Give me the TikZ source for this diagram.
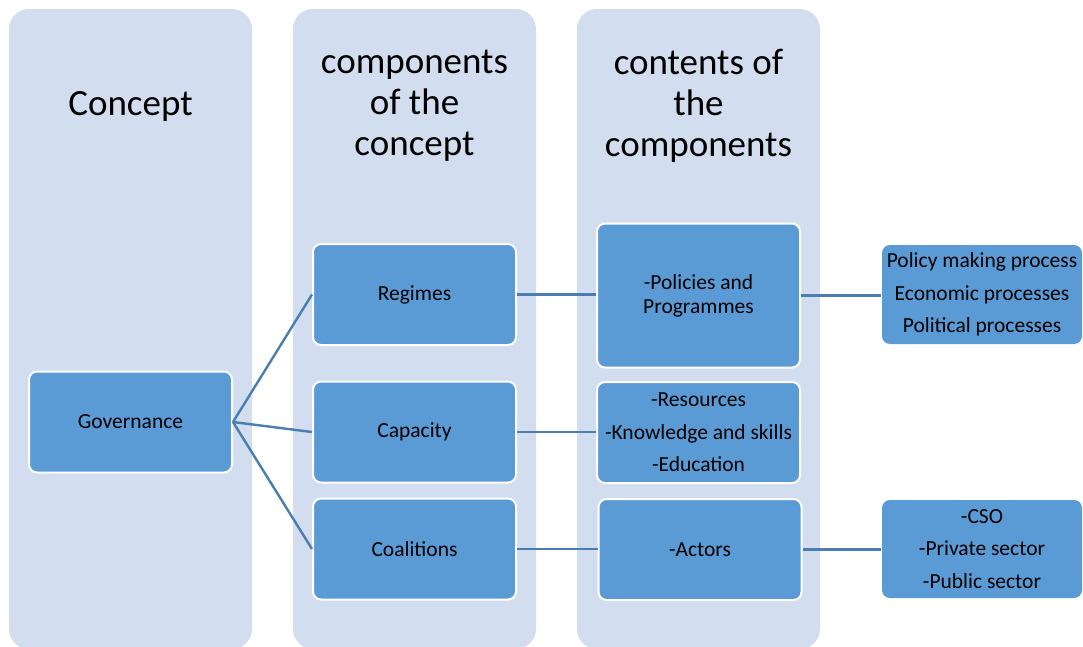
\documentclass[tikz,border=0pt]{standalone}
\usepackage{fontspec}
\setmainfont{Carlito}
\usepackage{xcolor}
\definecolor{colfill}{HTML}{D2DEEF}
\definecolor{boxfill}{HTML}{5B9BD5}
\definecolor{linecol}{HTML}{4A7EB0}

\begin{document}
\begin{tikzpicture}[x=1pt,y=-1pt,
    col node/.style={fill=colfill,rounded corners=20pt,minimum width=243pt,minimum height=640pt,inner sep=0pt},
    head node/.style={align=center,font=\fontsize{37}{41}\selectfont},
    box node/.style={fill=boxfill,draw=white,line width=2pt,rounded corners=8pt,align=center,
                     minimum width=203pt,minimum height=101pt,font=\fontsize{21.5}{32.5}\selectfont},
    link/.style={draw=linecol,line width=2.4pt}]
  \useasboundingbox (0,0) rectangle (1083,646);
  % Columns
  \node[col node] (colA) at (130.5,329) {};
  \node[col node] (colB) at (414.5,329) {};
  \node[col node] (colC) at (698.5,329) {};
  \node[head node] (hA) at (130.5,106) {Concept};
  \node[head node] (hB) at (414.5,106) {components\\of the\\concept};
  \node[head node] (hC) at (698.5,106) {contents of\\the\\components};

  % Nodes
  \node[box node] (gov) at (130.5,422) {Governance};
  \node[box node] (reg) at (414.5,294.5) {Regimes};
  \node[box node] (cap) at (414.5,432) {Capacity};
  \node[box node] (coal) at (414.5,549) {Coalitions};
  \node[box node,minimum height=144pt,font=\fontsize{21.5}{24}\selectfont] (pol) at (698.5,295.5) {-Policies and\\Programmes};
  \node[box node] (res) at (698.5,432.5) {-Resources\\-Knowledge and skills\\-Education};
  \node[box node] (act) at (700,549.5) {-Actors};
  \node[box node,draw=none,minimum width=200pt,minimum height=99pt] (proc) at (982,294.5) {Policy making process\\Economic processes\\Political processes};
  \node[box node,draw=none,minimum width=200pt,minimum height=98pt] (sect) at (982,549) {-CSO\\-Private sector\\-Public sector};

  % Edges
  \draw[link] (gov.east) -- (reg.west);
  \draw[link] (gov.east) -- (cap.west);
  \draw[link] (gov.east) -- (coal.west);
  \draw[link] (reg.east) -- (reg.east -| pol.west);
  \draw[link] (cap.east) -- (cap.east -| res.west);
  \draw[link] (coal.east) -- (coal.east -| act.west);
  \draw[link] (pol.east) -- (pol.east -| proc.west);
  \draw[link] (act.east) -- (act.east -| sect.west);
\end{tikzpicture}
\end{document}
